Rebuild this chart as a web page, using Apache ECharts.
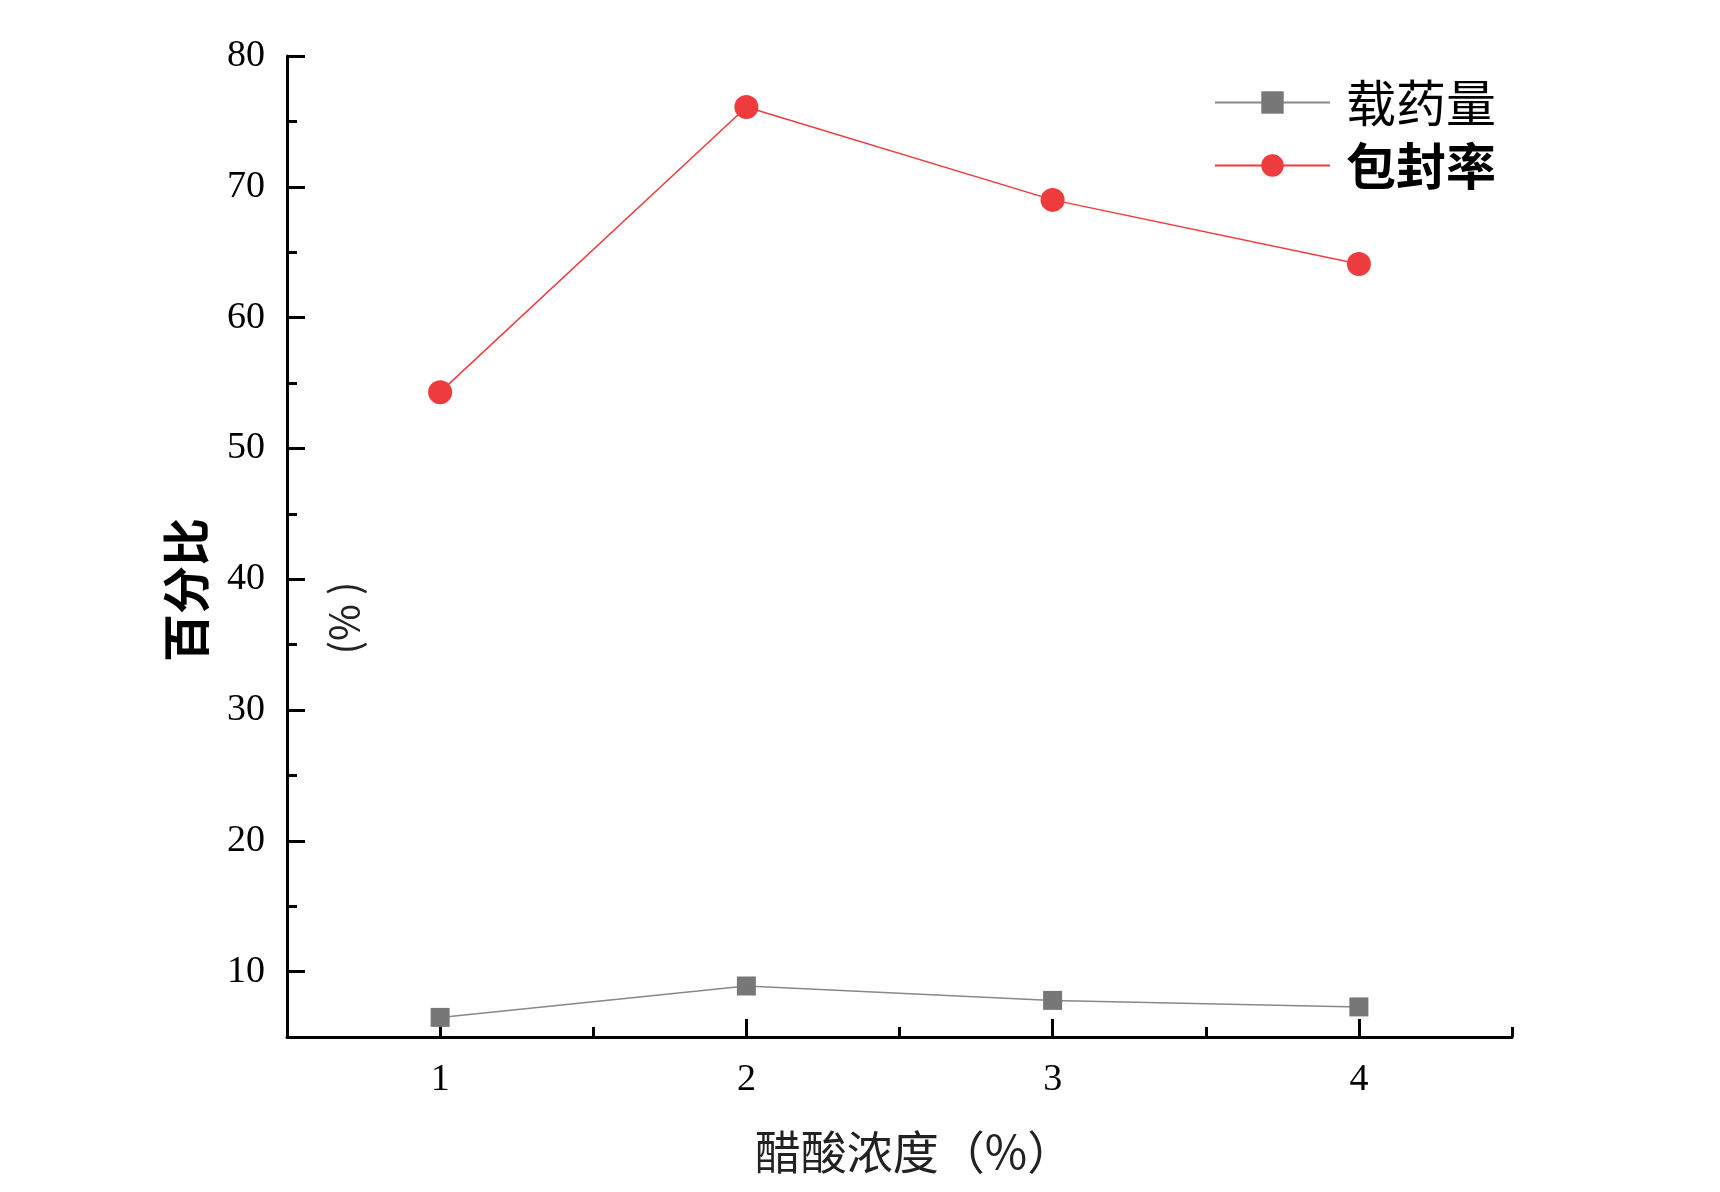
<!DOCTYPE html>
<html>
<head>
<meta charset="utf-8">
<script src="https://cdn.jsdelivr.net/npm/echarts@6/dist/echarts.min.js"></script>
<style>
  html, body { margin: 0; padding: 0; background: #fff; }
  #chart { width: 1720px; height: 1192px; }
</style>
</head>
<body>
<div id="chart"></div>
<script>
// 醋酸浓度 (%)
const concentration = [1, 2, 3, 4];
// 载药量 / 包封率 (%)
const loading = [6.5, 8.9, 7.8, 7.3];
const encapsulation = [54.3, 76.1, 69.0, 64.1];

// tick positions
const xMajorTicks = [1, 2, 3, 4];
const xMinorTicks = [1.5, 2.5, 3.5, 4.5];
const yMajorTicks = [10, 20, 30, 40, 50, 60, 70, 80];
const yMinorTicks = [15, 25, 35, 45, 55, 65, 75];

const serif = '"Liberation Serif", "Times New Roman", serif';
const cjk = '"Noto Sans CJK SC", sans-serif';

const chart = echarts.init(document.getElementById('chart'));

const pairs = (ys) => concentration.map((x, i) => [x, ys[i]]);

const baseAxisLine = { show: true, lineStyle: { color: '#000', width: 3 } };

const option = {
  backgroundColor: '#fff',
  animation: false,
  grid: { left: 287, top: 56, right: 208, bottom: 155 },
  legend: {
    orient: 'vertical',
    left: 1209,
    top: 69,
    itemWidth: 115,
    itemHeight: 28,
    itemGap: 6,
    textStyle: { fontFamily: cjk, fontSize: 50, color: '#000', lineHeight: 57, padding: [0, 0, 0, 11] },
    data: [
      { name: '载药量' },
      { name: '包封率', textStyle: { fontWeight: 'bold' } }
    ]
  },
  xAxis: [
    {
      type: 'value',
      min: 0.5,
      max: 4.5,
      axisLine: baseAxisLine,
      splitLine: { show: false },
      axisTick: { inside: true, length: 18, customValues: xMajorTicks, lineStyle: { color: '#000', width: 3 } },
      axisLabel: { customValues: xMajorTicks, margin: 24, fontFamily: serif, fontSize: 38, color: '#000' }
    },
    {
      type: 'value',
      position: 'bottom',
      min: 0.5,
      max: 4.5,
      axisLine: { show: false },
      splitLine: { show: false },
      axisTick: { inside: true, length: 10, customValues: xMinorTicks, lineStyle: { color: '#000', width: 3 } },
      axisLabel: { show: false }
    }
  ],
  yAxis: [
    {
      type: 'value',
      min: 5,
      max: 80,
      axisLine: baseAxisLine,
      splitLine: { show: false },
      axisTick: { inside: true, length: 18, customValues: yMajorTicks, lineStyle: { color: '#000', width: 3 } },
      axisLabel: { customValues: yMajorTicks, margin: 22, fontFamily: serif, fontSize: 38, color: '#000' }
    },
    {
      type: 'value',
      position: 'left',
      min: 5,
      max: 80,
      axisLine: { show: false },
      splitLine: { show: false },
      axisTick: { inside: true, length: 10, customValues: yMinorTicks, lineStyle: { color: '#000', width: 3 } },
      axisLabel: { show: false }
    }
  ],
  graphic: [
    {
      type: 'text',
      x: 186, y: 590,
      rotation: Math.PI / 2,
      style: { text: '百分比', fontFamily: cjk, fontSize: 48, fontWeight: 'bold', fill: '#000', align: 'center', verticalAlign: 'middle' }
    },
    {
      type: 'text',
      x: 344, y: 618,
      rotation: Math.PI / 2,
      style: { text: '(% )', fontFamily: cjk, fontSize: 40, fill: '#222', align: 'center', verticalAlign: 'middle' }
    },
    {
      type: 'text',
      x: 914, y: 1152,
      style: { text: '醋酸浓度（%）', fontFamily: cjk, fontSize: 46, fill: '#222', align: 'center', verticalAlign: 'middle' }
    }
  ],
  series: [
    {
      name: '载药量',
      type: 'line',
      data: pairs(loading),
      symbol: 'rect',
      symbolSize: 19,
      itemStyle: { color: '#777777' },
      lineStyle: { color: '#888888', width: 1.5 }
    },
    {
      name: '包封率',
      type: 'line',
      data: pairs(encapsulation),
      symbol: 'circle',
      symbolSize: 24,
      itemStyle: { color: '#EE3B3D' },
      lineStyle: { color: '#EE3B3D', width: 1.5 }
    }
  ]
};

chart.setOption(option);
</script>
</body>
</html>
